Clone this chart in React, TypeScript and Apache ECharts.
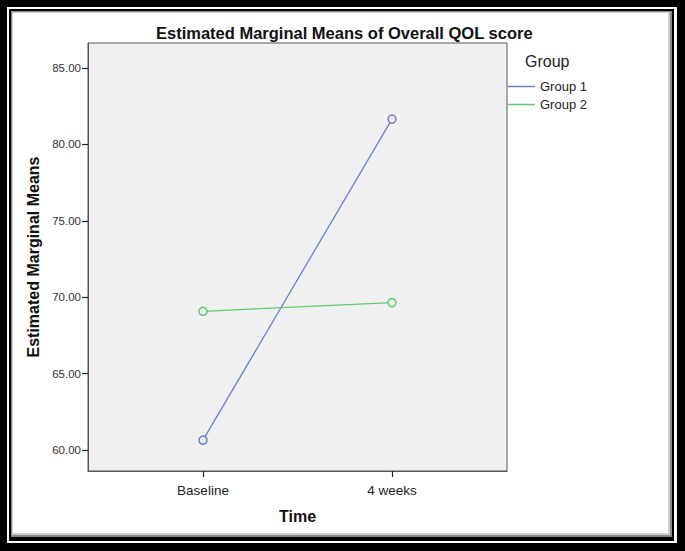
import React, { useEffect, useRef } from "react";
import * as echarts from "echarts";

const timeLabels = ["Baseline", "4 weeks"];
const timePositions = [0, 1];
const seriesNames = ["Group 1", "Group 2"];
const group1 = [60.65, 81.66];
const group2 = [69.08, 69.65];
const yTicks = [60, 65, 70, 75, 80, 85];

const FONT = "'Liberation Sans', Arial, sans-serif";
const C1 = "#6b7fc9";
const C2 = "#63c96f";

export default function App() {
  const ref = useRef<HTMLDivElement>(null);
  useEffect(() => {
    if (!ref.current) return;
    const chart = echarts.init(ref.current, undefined, { renderer: "svg" });
    const mk = (vals: number[]) => vals.map((v, i) => [timePositions[i], v]);
    const W = 685, H = 551;
    const box = (x1: number, y1: number, x2: number, y2: number, fill: string) => ({
      type: "rect", silent: true, z: -10,
      shape: { x: x1, y: y1, width: x2 - x1, height: y2 - y1 },
      style: { fill },
    });
    chart.setOption({
      animation: false,
      backgroundColor: "#ffffff",
      title: {
        text: "Estimated Marginal Means of Overall QOL score",
        left: 151, top: 19,
        textStyle: { fontFamily: FONT, fontSize: 16.5, fontWeight: "bold", color: "#111" },
      },
      graphic: [
        box(0, 0, W, H, "#000"),
        box(7, 7, 677, 543, "#fff"),
        box(9, 9, 674, 541, "#000"),
        box(11, 11, 672, 537, "#8a8a8a"),
        box(12, 12, 670, 535, "#cfcfcf"),
        box(13, 13, 668, 533, "#fff"),
        {
          type: "text", left: 525, top: 53, z: 10,
          style: { text: "Group", fontFamily: FONT, fontSize: 16, fill: "#222" },
        },
      ],
      legend: {
        orient: "vertical",
        left: 508, top: 80, padding: 0,
        itemWidth: 27, itemHeight: 1.5, itemGap: 5,
        textStyle: { fontFamily: FONT, fontSize: 13, color: "#222" },
        data: seriesNames.map((n, i) => ({
          name: n, icon: "rect",
          itemStyle: { color: i === 0 ? C1 : C2, borderWidth: 0 },
        })),
      },
      grid: {
        left: 88, top: 43, right: W - 507, bottom: H - 471,
        show: true, backgroundColor: "#f0f0f0", borderColor: "#555", borderWidth: 1,
      },
      xAxis: {
        type: "value", min: -0.6085, max: 1.6085,
        name: "Time", nameLocation: "middle", nameGap: 37,
        nameTextStyle: { fontFamily: FONT, fontSize: 16, fontWeight: "bold", color: "#111" },
        axisLine: { show: true, onZero: false, lineStyle: { color: "#555" } },
        axisTick: { show: true, length: 6, customValues: timePositions, lineStyle: { color: "#222", width: 1.2 } },
        axisLabel: {
          customValues: timePositions, margin: 12,
          fontFamily: FONT, fontSize: 13.5, color: "#222",
          formatter: (v: number) => timeLabels[Math.round(v)] ?? "",
        },
        splitLine: { show: false },
      },
      yAxis: {
        type: "value", min: 58.63, max: 86.64,
        name: "Estimated Marginal Means", nameLocation: "middle", nameGap: 43,
        nameTextStyle: { fontFamily: FONT, fontSize: 16, fontWeight: "bold", color: "#111" },
        axisLine: { show: true, onZero: false, lineStyle: { color: "#555" } },
        axisTick: { show: true, length: 6, customValues: yTicks, lineStyle: { color: "#222", width: 1.2 } },
        axisLabel: {
          customValues: yTicks, margin: 7,
          fontFamily: FONT, fontSize: 11.5, color: "#333",
          formatter: (v: number) => v.toFixed(2),
        },
        splitLine: { show: false },
      },
      series: [
        {
          name: seriesNames[0], type: "line", data: mk(group1),
          symbol: "circle", symbolSize: 8,
          lineStyle: { color: C1, width: 1.3 },
          itemStyle: { color: "#f0f0f0", borderColor: C1, borderWidth: 1.5 },
        },
        {
          name: seriesNames[1], type: "line", data: mk(group2),
          symbol: "circle", symbolSize: 8,
          lineStyle: { color: C2, width: 1.3 },
          itemStyle: { color: "#f0f0f0", borderColor: C2, borderWidth: 1.5 },
        },
      ],
    });
    return () => chart.dispose();
  }, []);
  return (
    <div
      ref={ref}
      style={{ position: "absolute", left: 0, top: 0, width: 685, height: 551 }}
    />
  );
}
